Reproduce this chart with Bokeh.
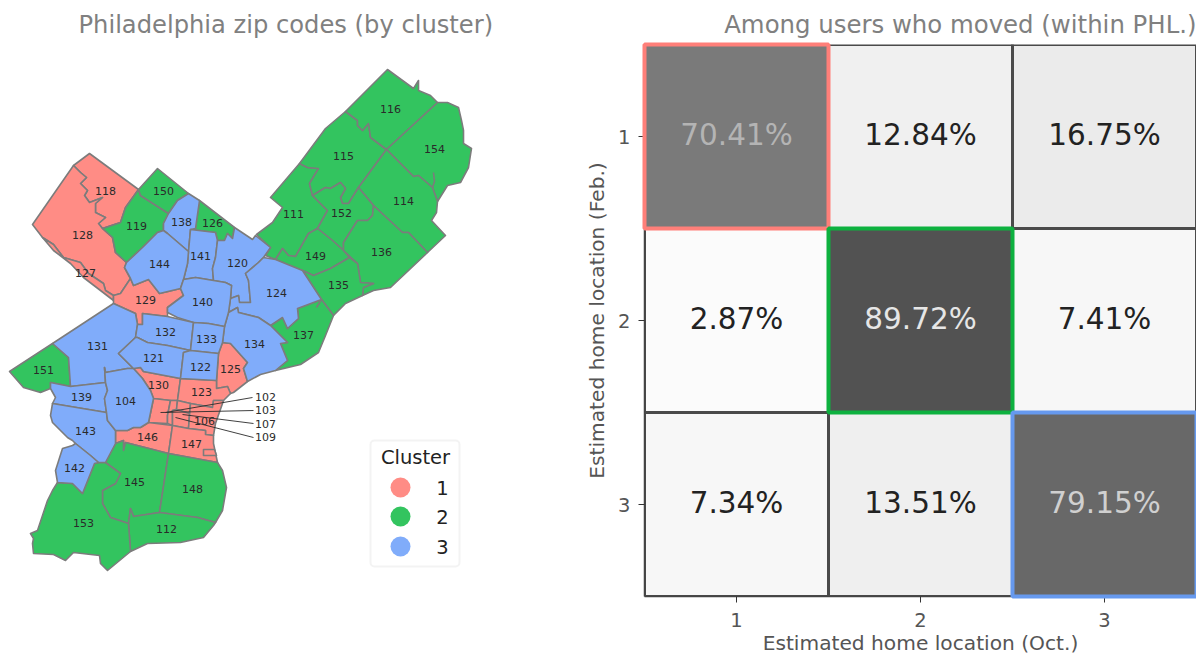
from bokeh.plotting import figure
from bokeh.layouts import row
from bokeh.models import Range1d, FixedTicker, BoxAnnotation, Title
from bokeh.core.properties import value
from bokeh.embed import file_html
from bokeh.resources import INLINE

FONT = "DejaVu Sans"

# ---------- map data: zip outlines ----------
outline_118 = [(89,153),(138,189),(125,207),(120,222),(102,228),(98,223),(105,217),(95,212),(95,203),(102,197),(89,202),(84,195),(87,190),(80,183),(86,177),(80,172),(73,165)]
outline_128 = [(73,165),(80,172),(86,177),(80,183),(87,190),(84,195),(89,202),(102,197),(95,203),(95,212),(105,217),(98,223),(102,228),(112,237),(115,252),(126,262),(124,267),(130,278),(120,293),(113,295),(105,290),(103,283),(88,273),(80,262),(63,257),(53,244),(42,237),(32,224)]
outline_127 = [(42,237),(53,244),(63,257),(80,262),(88,273),(103,283),(105,290),(113,295),(113,300),(100,290),(83,277),(70,263),(53,250)]
outline_119 = [(138,189),(140,195),(168,213),(163,223),(163,230),(157,232),(142,247),(126,262),(115,252),(112,237),(102,228),(120,222),(125,207)]
outline_150 = [(157,168),(188,193),(177,200),(168,213),(140,195),(138,189)]
outline_138 = [(188,193),(199,200),(195,228),(190,229),(188,251),(167,233),(163,230),(163,223),(168,213),(177,200)]
outline_126 = [(199,200),(234,227),(232,238),(227,233),(224,240),(217,240),(215,232),(190,229),(195,228)]
outline_141 = [(190,229),(215,232),(217,240),(215,257),(212,268),(213,280),(195,277),(183,279),(187,263),(188,251)]
outline_144 = [(157,232),(163,230),(167,233),(188,251),(187,263),(183,279),(180,288),(159,293),(148,279),(133,285),(130,278),(124,267),(126,262),(142,247)]
outline_120 = [(234,227),(252,239),(255,235),(270,247),(263,257),(258,262),(245,273),(248,280),(250,302),(239,302),(238,295),(230,298),(231,285),(225,282),(213,280),(212,268),(215,257),(217,240),(224,240),(227,233),(232,238)]
outline_111 = [(299,163),(270,197),(282,207),(272,222),(256,234),(270,247),(265,255),(275,259),(282,248),(288,255),(295,256),(308,233),(317,228),(327,210),(312,195),(309,183),(318,168),(307,167)]
outline_115 = [(345,111),(325,128),(299,163),(307,167),(318,168),(309,183),(312,195),(325,187),(330,188),(340,182),(345,188),(340,197),(342,203),(348,203),(358,187),(386,149),(370,137),(368,123),(362,130),(357,125),(357,120)]
outline_116 = [(387,69),(413,88),(418,80),(418,90),(430,95),(437,102),(386,149),(370,137),(368,123),(362,130),(357,125),(357,120),(345,111)]
outline_154 = [(437,102),(447,102),(458,107),(461,120),(463,130),(463,143),(471,148),(468,167),(460,182),(447,185),(437,201),(432,187),(418,175),(413,176),(386,149)]
outline_114 = [(386,149),(413,176),(418,175),(432,187),(437,201),(436,212),(431,220),(445,235),(427,252),(408,232),(402,232),(373,205),(358,187)]
outline_152 = [(358,187),(373,205),(372,215),(367,220),(357,220),(343,242),(343,250),(332,240),(317,228),(327,210),(312,195),(325,187),(330,188),(340,182),(345,188),(340,197),(342,203),(348,203)]
outline_136 = [(373,205),(402,232),(408,232),(427,252),(390,287),(373,290),(362,295),(363,287),(373,283),(360,282),(357,263),(343,250),(343,242),(357,220),(367,220),(372,215)]
outline_149 = [(317,228),(332,240),(343,250),(349,257),(330,268),(313,275),(302,270),(275,259),(282,248),(288,255),(295,256),(308,233)]
outline_135 = [(349,257),(357,263),(360,282),(373,283),(363,287),(362,295),(345,303),(333,315),(321,299),(302,270),(313,275),(330,268)]
outline_124 = [(263,257),(275,259),(302,270),(321,299),(297,308),(298,318),(287,328),(282,317),(270,325),(258,317),(238,312),(237,307),(228,312),(230,298),(238,295),(239,302),(250,302),(248,280),(245,273),(258,262)]
outline_137 = [(321,299),(333,315),(325,335),(318,352),(300,364),(275,370),(287,360),(280,343),(287,342),(282,337),(270,325),(282,317),(287,328),(298,318),(297,308)]
outline_134 = [(228,312),(237,307),(238,312),(258,317),(270,325),(282,337),(287,342),(280,343),(287,360),(275,370),(260,374),(247,381),(243,368),(247,362),(230,343),(222,342),(224,326)]
outline_125 = [(222,342),(230,343),(247,362),(243,368),(247,381),(233,392),(230,393),(227,386),(216,388),(216,380),(218,353)]
outline_140 = [(183,279),(195,277),(213,280),(225,282),(231,285),(230,298),(228,312),(224,326),(208,323),(193,322),(177,317),(167,312),(167,307),(183,295),(180,288)]
outline_129 = [(113,295),(120,293),(130,278),(133,285),(148,279),(159,293),(180,288),(183,295),(167,307),(167,316),(142,313),(142,324),(137,324),(135,313),(113,303)]
outline_131 = [(113,303),(135,313),(137,324),(135,337),(118,353),(133,368),(127,368),(105,372),(104,367),(105,382),(70,386),(68,357),(52,343)]
outline_151 = [(52,343),(68,357),(70,386),(50,382),(50,388),(40,392),(23,387),(9,371)]
outline_139 = [(50,382),(70,386),(105,382),(107,390),(104,398),(106,412),(52,403),(55,397),(50,388)]
outline_143 = [(52,403),(106,412),(107,420),(115,430),(115,443),(105,462),(98,462),(90,455),(75,443),(72,440),(67,437),(52,422),(50,415)]
outline_142 = [(72,445),(75,443),(90,455),(98,462),(94,463),(82,493),(72,483),(57,482),(55,470),(62,448)]
outline_104 = [(104,367),(105,372),(127,368),(133,368),(142,378),(150,390),(153,398),(148,422),(140,427),(133,427),(127,430),(115,430),(107,420),(106,412),(104,398),(107,390),(105,382)]
outline_132 = [(137,324),(142,324),(142,313),(167,316),(193,322),(190,350),(167,345),(147,342),(137,337),(135,337)]
outline_133 = [(193,322),(208,323),(224,326),(222,342),(218,353),(190,350)]
outline_121 = [(135,337),(137,337),(147,342),(167,345),(190,350),(183,352),(180,378),(143,371),(140,367),(133,368),(118,353)]
outline_122 = [(183,352),(190,350),(218,353),(216,380),(180,378)]
outline_130 = [(133,368),(140,367),(143,371),(180,378),(177,400),(170,400),(153,398),(150,390),(142,378)]
outline_123 = [(180,378),(216,380),(216,388),(227,386),(230,393),(223,400),(213,400),(212,407),(190,403),(177,400)]
outline_103 = [(153,398),(170,400),(167,415),(167,423),(148,422)]
outline_102 = [(170,400),(177,400),(176,409),(172,410),(172,425),(167,423),(167,415)]
outline_109 = [(177,400),(190,403),(189,413),(176,409)]
outline_107 = [(176,409),(189,413),(188,428),(172,425),(172,410)]
outline_106 = [(190,403),(212,407),(213,400),(223,400),(222,403),(215,423),(213,435),(205,434),(205,430),(188,428)]
outline_146 = [(115,430),(127,430),(133,427),(140,427),(148,422),(172,425),(168,453),(125,442),(123,450),(123,440),(115,443)]
outline_147 = [(172,425),(188,428),(205,430),(205,434),(213,435),(213,443),(217,462),(168,453)]
outline_147b = [(203,449),(214,449),(216,455),(203,455)]
outline_145 = [(115,443),(123,440),(123,450),(125,442),(168,453),(159,512),(133,516),(130,508),(128,523),(110,517),(102,503),(102,490),(115,483),(120,473),(105,462)]
outline_148 = [(168,453),(217,462),(222,470),(226,487),(222,510),(215,522),(197,517),(159,512)]
outline_112 = [(133,516),(159,512),(197,517),(215,522),(213,525),(203,537),(180,542),(147,543),(130,551),(128,523),(130,508)]
outline_153 = [(98,462),(105,462),(120,473),(115,483),(102,490),(102,503),(110,517),(128,523),(130,551),(107,570),(100,563),(99,555),(73,552),(65,560),(53,554),(33,553),(32,543),(33,538),(30,533),(37,530),(47,500),(52,490),(57,482),(72,483),(82,493),(94,463)]

cluster_1 = [outline_118, outline_128, outline_127, outline_129, outline_125, outline_130, outline_123, outline_103, outline_102, outline_109, outline_107, outline_106, outline_146, outline_147, outline_147b]
cluster_2 = [outline_119, outline_150, outline_126, outline_111, outline_115, outline_116, outline_154, outline_114, outline_152, outline_136, outline_149, outline_135, outline_137, outline_151, outline_145, outline_148, outline_112, outline_153]
cluster_3 = [outline_138, outline_141, outline_144, outline_120, outline_124, outline_134, outline_140, outline_131, outline_139, outline_143, outline_142, outline_104, outline_132, outline_133, outline_121, outline_122]
cluster_colors = ["#FF8C85", "#33C45F", "#80ACFA"]
cluster_names = ["1", "2", "3"]

stray_lines = [[(432,187),(434,181),(433,172)], [(321,299),(316,307)]]

zip_labels = ["118","128","127","119","150","138","126","144","141","120","129","140","124","111","115","116","154","114","152","136","149","135","137","134","132","133","121","122","125","131","151","139","104","130","123","106","146","147","143","142","145","148","112","153"]
zip_label_x = [105,82,85,136,163,181,212,159,200,237,145,202,276,293,343,390,434,403,341,381,315,338,303,254,165,206,153,200,230,97,43,81,125,158,201,204,147,191,85,74,134,192,166,83]
zip_label_y = [190,234,272,225,190,221,222,263,255,262,299,301,292,213,155,108,148,200,212,251,255,284,334,343,331,338,357,366,368,345,369,396,400,384,391,420,436,443,430,467,481,488,528,522]

leader_labels = ["102","103","107","109"]
leader_label_x = [265,265,265,265]
leader_label_y = [396,409,423,436]
leader_x0 = [252,253,253,253]
leader_y0 = [397,410,423,437]
leader_x1 = [165,160,182,175]
leader_y1 = [412,412,414,417]

legend_title = "Cluster"
legend_dot_x = [400,400,400]
legend_dot_y = [487,516,546]
legend_text_x = [442,442,442]

# ---------- heatmap data ----------
oct_loc = [1,2,3, 1,2,3, 1,2,3]
feb_loc = [1,1,1, 2,2,2, 3,3,3]
share_labels = ["70.41%","12.84%","16.75%","2.87%","89.72%","7.41%","7.34%","13.51%","79.15%"]
cell_colors = ["#7A7A7A","#F0F0F0","#EBEBEB","#FBFBFB","#525252","#F7F7F7","#F7F7F7","#EFEFEF","#686868"]
text_colors = ["#B4B4B4","#222222","#222222","#222222","#E6E6E6","#222222","#222222","#222222","#D0D0D0"]
diag_loc = [1,2,3]
diag_colors = ["#FF7F79","#0DB13F","#6699EE"]
tick_values = [1,2,3]

TITLE_GREY = "#808080"
AXIS_GREY = "#555555"

# ---------- left panel ----------
left = figure(width=568, height=657, output_backend="svg", toolbar_location=None,
              x_range=Range1d(0, 568), y_range=Range1d(596, 44),
              min_border_left=0, min_border_right=0, min_border_bottom=61, min_border_top=44,
              x_axis_location=None, y_axis_location=None, outline_line_color=None)
left.grid.visible = False
left.add_layout(Title(text="Philadelphia zip codes (by cluster)", align="left", offset=78,
                      text_font=FONT, text_font_size="24.2px", text_font_style="normal",
                      text_color=TITLE_GREY, standoff=11), "above")

for group, color in zip([cluster_1, cluster_2, cluster_3], cluster_colors):
    left.patches([[q[0] for q in o] for o in group], [[q[1] for q in o] for o in group],
                 fill_color=color, line_color="#7C7C7C", line_width=1.6, line_join="round")
left.multi_line([[q[0] for q in o] for o in stray_lines], [[q[1] for q in o] for o in stray_lines],
                line_color="#7C7C7C", line_width=1.6)
left.segment(leader_x0, leader_y0, leader_x1, leader_y1, line_color="#2b2b2b", line_width=0.9)
left.text(zip_label_x, zip_label_y, text=zip_labels, text_align="center", text_baseline="middle",
          text_font=value(FONT), text_font_size="11px", text_color="#2a2a2a")
left.text(leader_label_x, leader_label_y, text=leader_labels, text_align="center", text_baseline="middle",
          text_font=value(FONT), text_font_size="11px", text_color="#2a2a2a")

left.add_layout(BoxAnnotation(left=370, right=459, top=440, bottom=566, fill_color="white", fill_alpha=1,
                              line_color="#D6D6D6", line_width=2, border_radius=4, level="underlay"))
left.text([415], [457], text=[legend_title], text_align="center", text_baseline="middle",
          text_font=value(FONT), text_font_size="19.5px", text_color="#222222")
left.scatter(legend_dot_x, legend_dot_y, size=20, marker="circle", fill_color=cluster_colors, line_color=None)
left.text(legend_text_x, legend_dot_y, text=cluster_names, text_align="center", text_baseline="middle",
          text_font=value(FONT), text_font_size="19.5px", text_color="#222222")

# ---------- right panel ----------
right = figure(width=628, height=657, output_backend="svg", toolbar_location=None,
               x_range=Range1d(0.5, 3.5), y_range=Range1d(3.5, 0.5),
               min_border_left=76, min_border_right=0, min_border_top=44, min_border_bottom=61,
               outline_line_color=None)
right.grid.visible = False
right.add_layout(Title(text="Among users who moved (within PHL.)", align="right",
                       text_font=FONT, text_font_size="24.4px", text_font_style="normal",
                       text_color=TITLE_GREY, standoff=11), "above")

right.rect(oct_loc, feb_loc, width=1, height=1, fill_color=cell_colors, line_color="#4A4A4A", line_width=3)
right.rect(diag_loc, diag_loc, width=1, height=1, fill_color=None, line_color=diag_colors, line_width=4, level="annotation")
right.text(oct_loc, feb_loc, text=share_labels, text_color=text_colors, text_align="center", text_baseline="middle",
           y_offset=-2, text_font=value(FONT), text_font_size="29.5px")

for ax in (right.xaxis[0], right.yaxis[0]):
    ax.ticker = FixedTicker(ticks=tick_values)
    ax.minor_tick_line_color = None
    ax.major_tick_in = 0
    ax.major_tick_out = 6
    ax.major_tick_line_color = "#333333"
    ax.axis_line_color = "#444444"
    ax.axis_line_width = 1.5
    ax.major_label_text_font = FONT
    ax.major_label_text_font_size = "19.5px"
    ax.major_label_text_color = AXIS_GREY
    ax.axis_label_text_font = FONT
    ax.axis_label_text_font_size = "20.2px"
    ax.axis_label_text_font_style = "normal"
    ax.axis_label_text_color = AXIS_GREY
right.xaxis[0].axis_label = "Estimated home location (Oct.)"
right.yaxis[0].axis_label = "Estimated home location (Feb.)"
right.yaxis[0].major_label_orientation = "horizontal"
right.xaxis[0].axis_label_standoff = 1
right.yaxis[0].axis_label_standoff = 6
right.xaxis[0].major_label_standoff = 10
right.yaxis[0].major_label_standoff = 8

open("out.html", "w").write(file_html(row(left, right), INLINE))
